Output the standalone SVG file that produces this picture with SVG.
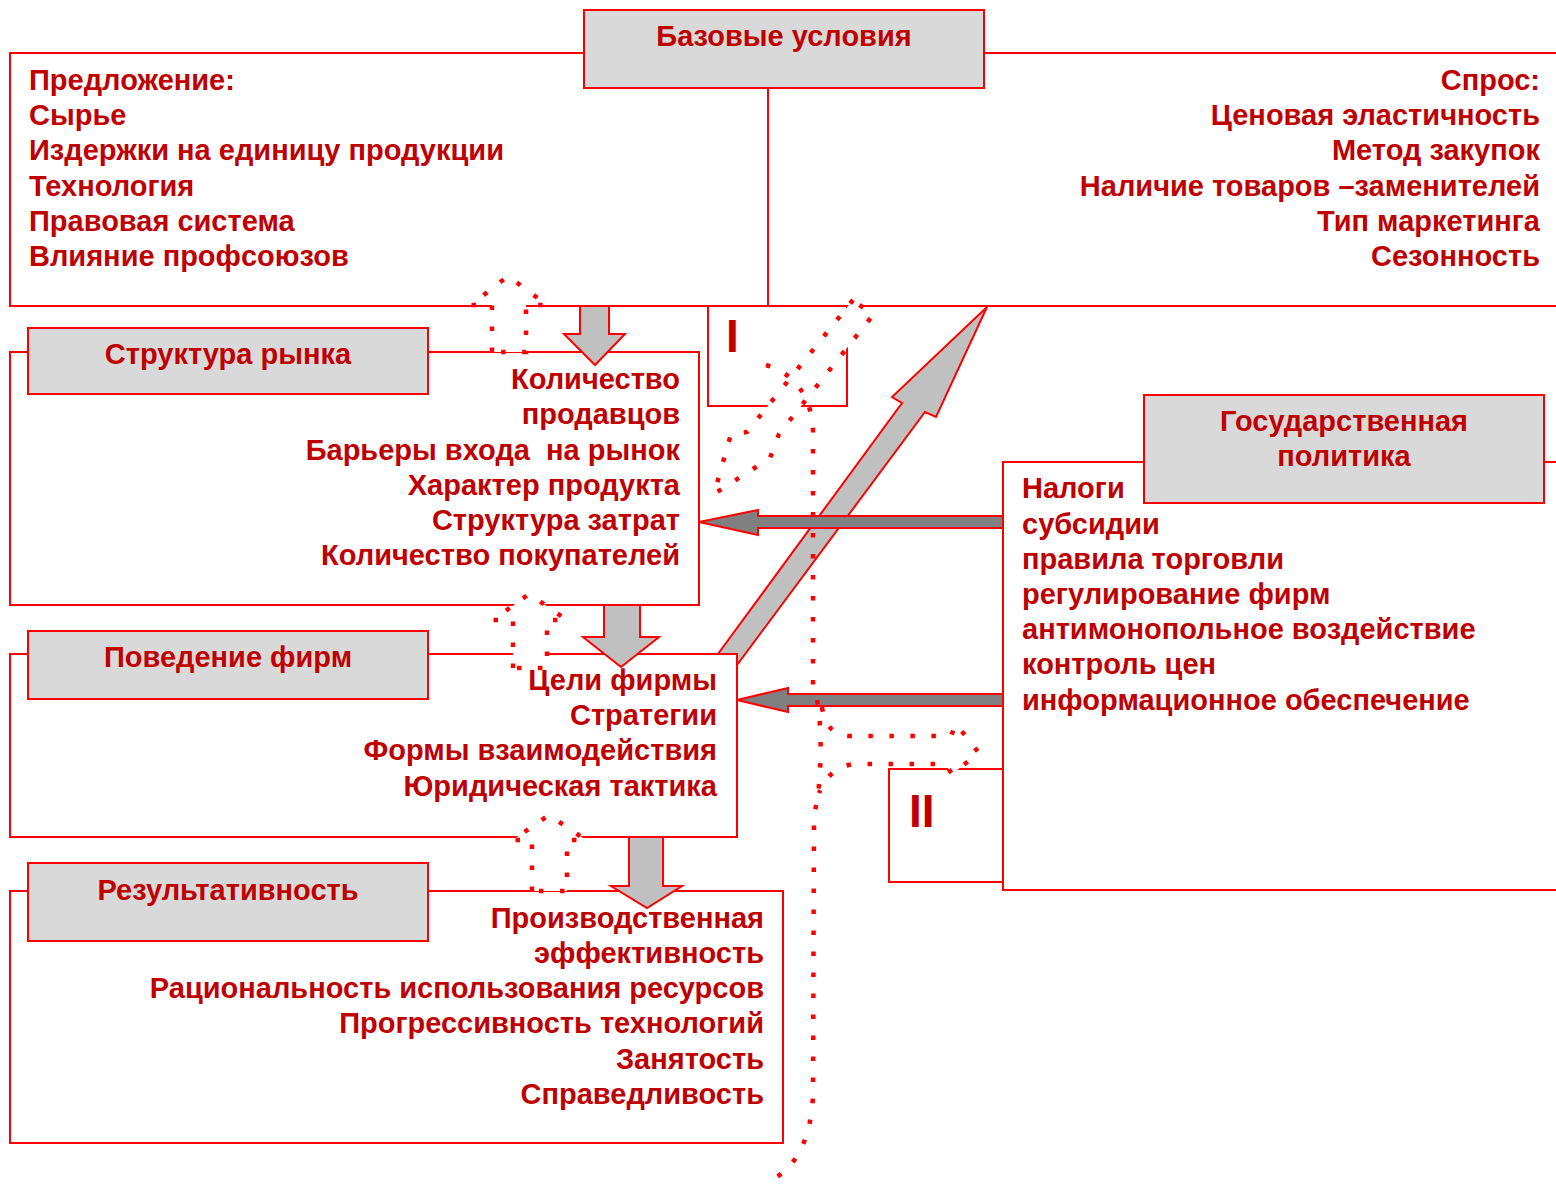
<svg xmlns="http://www.w3.org/2000/svg" width="1556" height="1185" viewBox="0 0 1556 1185">
<style>
.t{font-family:"Liberation Sans",Arial,sans-serif;font-weight:bold;font-size:29px;fill:#c00000}
.r{text-anchor:end}
.m{text-anchor:middle}
.big{font-size:46px}
.ln{fill:none;stroke:#ff0000;stroke-width:2}
.tb{fill:#d9d9d9;stroke:#ff0000;stroke-width:2}
.ga{fill:#c0c0c0;stroke:#ff0000;stroke-width:2;stroke-linejoin:miter}
.da{fill:#808080;stroke:#ff0000;stroke-width:2}
.dot{fill:#ffffff;stroke:#ff0000;stroke-width:4.5;stroke-dasharray:4.5 16.5}
.dotl{fill:none;stroke:#ff0000;stroke-width:4.5;stroke-dasharray:4.5 16.5}
</style>
<rect width="1556" height="1185" fill="#ffffff"/>

<g id="base">
<path class="ln" d="M584,53 H10 V306 H1556 M984,53 H1556 M768,88 V306"/>
<rect class="tb" x="584" y="10" width="400" height="78"/>
<text class="t m" x="784" y="46">Базовые условия</text>
<text class="t" x="29" y="90">Предложение:</text>
<text class="t" x="29" y="125">Сырье</text>
<text class="t" x="29" y="160">Издержки на единицу продукции</text>
<text class="t" x="29" y="196">Технология</text>
<text class="t" x="29" y="231">Правовая система</text>
<text class="t" x="29" y="266">Влияние профсоюзов</text>
<text class="t r" x="1540" y="90">Спрос:</text>
<text class="t r" x="1540" y="125">Ценовая эластичность</text>
<text class="t r" x="1540" y="160">Метод закупок</text>
<text class="t r" x="1540" y="196">Наличие товаров –заменителей</text>
<text class="t r" x="1540" y="231">Тип маркетинга</text>
<text class="t r" x="1540" y="266">Сезонность</text>
</g>

<g id="box-I">
<path class="ln" d="M708,306 V406 H847 V306"/>
<text class="t big" x="726" y="352">I</text>
</g>

<g id="structure">
<path class="ln" d="M28,352 H10 V605 H699 V352 H428"/>
<rect class="tb" x="28" y="328" width="400" height="66"/>
<text class="t m" x="228" y="364">Структура рынка</text>
<text class="t r" x="680" y="389">Количество</text>
<text class="t r" x="680" y="424">продавцов</text>
<text class="t r" x="680" y="460" xml:space="preserve">Барьеры входа  на рынок</text>
<text class="t r" x="680" y="495">Характер продукта</text>
<text class="t r" x="680" y="530">Структура затрат</text>
<text class="t r" x="680" y="565">Количество покупателей</text>
</g>

<g id="behavior">
<path class="ln" d="M28,654 H10 V837 H737 V654 H428"/>
<rect class="tb" x="28" y="631" width="400" height="68"/>
<text class="t m" x="228" y="667">Поведение фирм</text>
<text class="t r" x="717" y="690">Цели фирмы</text>
<text class="t r" x="717" y="725">Стратегии</text>
<text class="t r" x="717" y="760">Формы взаимодействия</text>
<text class="t r" x="717" y="796">Юридическая тактика</text>
</g>

<g id="result">
<path class="ln" d="M28,891 H10 V1143 H783 V891 H428"/>
<rect class="tb" x="28" y="863" width="400" height="78"/>
<text class="t m" x="228" y="900">Результативность</text>
<text class="t r" x="764" y="928">Производственная</text>
<text class="t r" x="764" y="963">эффективность</text>
<text class="t r" x="764" y="998">Рациональность использования ресурсов</text>
<text class="t r" x="764" y="1033">Прогрессивность технологий</text>
<text class="t r" x="764" y="1069">Занятость</text>
<text class="t r" x="764" y="1104">Справедливость</text>
</g>

<g id="gov">
<path class="ln" d="M1144,462 H1003 V890 H1556 M1544,462 H1556"/>
<rect class="tb" x="1144" y="395" width="400" height="108"/>
<text class="t m" x="1344" y="431">Государственная</text>
<text class="t m" x="1344" y="466">политика</text>
<text class="t" x="1022" y="498">Налоги</text>
<text class="t" x="1022" y="534">субсидии</text>
<text class="t" x="1022" y="569">правила торговли</text>
<text class="t" x="1022" y="604">регулирование фирм</text>
<text class="t" x="1022" y="639">антимонопольное воздействие</text>
<text class="t" x="1022" y="674">контроль цен</text>
<text class="t" x="1022" y="710">информационное обеспечение</text>
</g>

<g id="box-II">
<path class="ln" d="M1003,769 H889 V882 H1003"/>
<text class="t big" x="909" y="827">II</text>
</g>

<g id="connectors">
<polygon class="ga" points="987,307 936,417 925,412 737,665 737,654 718,654 902,403 892,397"/>
<polygon class="ga" points="580,306 580,334 564,334 595,365 625,334 609,334 609,306"/>
<polygon class="ga" points="604,605 604,637 583,637 621,667 659,637 640,637 640,605"/>
<polygon class="ga" points="629,837 629,886 611,886 647,908 682,886 663,886 663,837"/>
<polygon class="da" points="1003,516 758,516 758,510 699,522 758,535 758,528 1003,528"/>
<polygon class="da" points="1003,694 788,694 788,688 737,700 788,712 788,706 1003,706"/>
<polygon class="dot" points="492,352 492,305 471,305 508,276 547,305 526,305 526,352"/>
<polygon class="dot" points="513,668 513,620 493,620 529,594 567,620 547,620 547,668"/>
<polygon class="dot" points="532,891 532,840 513,840 549,815 586,840 567,840 567,891"/>
<polygon class="dot" points="853,300 747,432 731,434 714,494 770,458 779,434 873,315"/>
<path class="dot" d="M822,707 Q826,736 850,736 L951,736 L956,724 L979,753 L952,774 L945,764 L855,764 Q830,766 819,793"/>
<path class="dotl" d="M766,365 C790,372 812,392 813,432 L813,687 C823,705 823,785 814,814 L813,1095 Q810,1162 768,1182"/>
</g>
</svg>
